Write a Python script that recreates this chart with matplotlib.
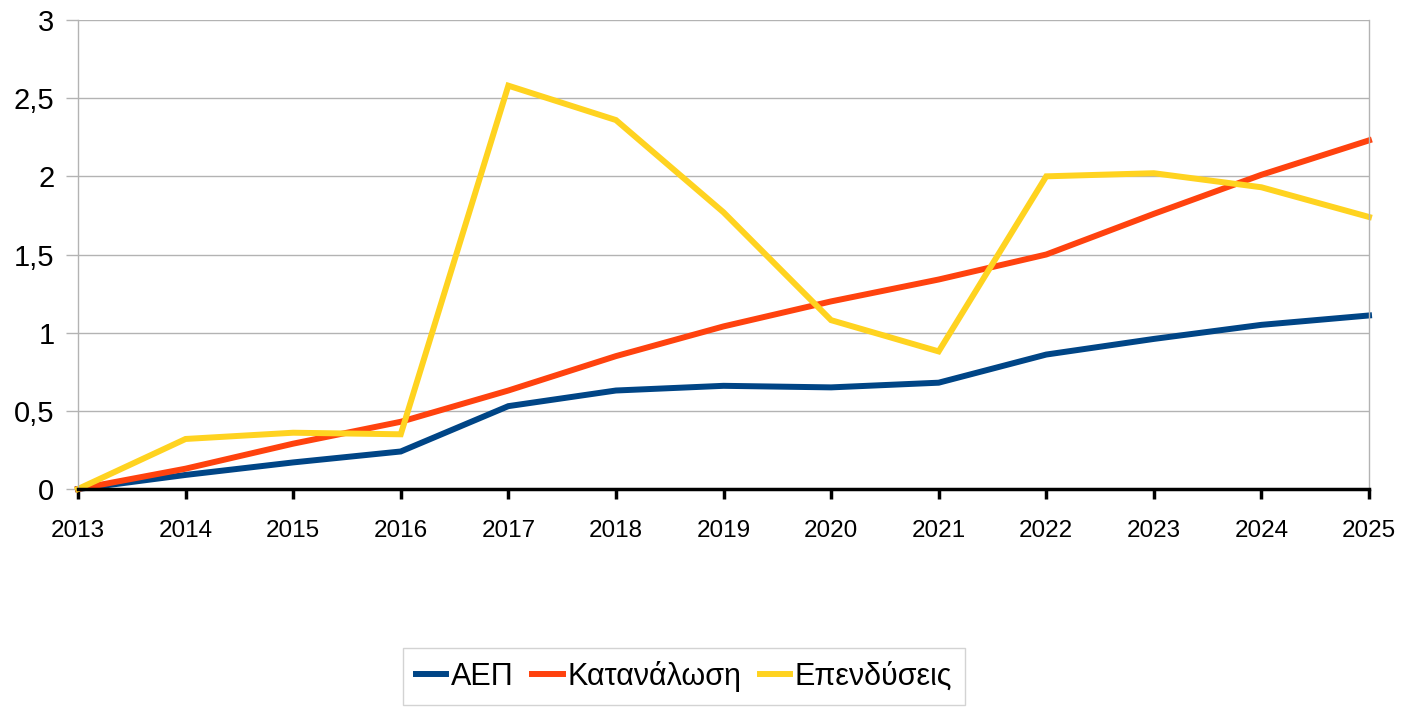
import matplotlib
matplotlib.use("Agg")
import matplotlib.pyplot as plt
from matplotlib.ticker import FuncFormatter

plt.rcParams['font.family'] = ['Liberation Sans', 'DejaVu Sans']

# data
years = [2013, 2014, 2015, 2016, 2017, 2018, 2019, 2020, 2021, 2022, 2023, 2024, 2025]
aep = [0, 0.09, 0.17, 0.24, 0.53, 0.63, 0.66, 0.65, 0.68, 0.86, 0.96, 1.05, 1.11]
katanalosi = [0, 0.13, 0.29, 0.43, 0.63, 0.85, 1.04, 1.20, 1.34, 1.50, 1.76, 2.01, 2.23]
ependyseis = [0, 0.32, 0.36, 0.35, 2.58, 2.36, 1.77, 1.08, 0.88, 2.00, 2.02, 1.93, 1.74]
names = ["ΑΕΠ", "Κατανάλωση", "Επενδύσεις"]
colors = ["#004586", "#ff420e", "#ffd320"]

fig = plt.figure(figsize=(14.1, 7.07), dpi=100)
ax = fig.add_axes([78/1410, 1 - 489/707, (1369 - 78)/1410, (489 - 20)/707])

for vals, name, col in zip([aep, katanalosi, ependyseis], names, colors):
    ax.plot(years, vals, color=col, lw=4.3, label=name, solid_joinstyle='miter', clip_on=False)

ax.set_xlim(2013, 2025)
ax.set_ylim(0, 3)
ax.set_xticks(years)
ax.set_yticks([0, 0.5, 1, 1.5, 2, 2.5, 3])
ax.yaxis.set_major_formatter(FuncFormatter(lambda v, p: ("%g" % v).replace(".", ",")))

ax.grid(axis='y', color='#b3b3b3', lw=1)
ax.set_axisbelow(True)
for s in ['left', 'right']:
    ax.spines[s].set_color('#b3b3b3')
    ax.spines[s].set_linewidth(1)
ax.spines['top'].set_visible(False)
ax.spines['bottom'].set_color('black')
ax.spines['bottom'].set_linewidth(2.5)
ax.spines['bottom'].set_zorder(5)

ax.tick_params(axis='x', direction='out', length=7, width=2.5, color='black', labelsize=17.5, pad=15)
ax.tick_params(axis='y', direction='out', length=9, width=1, color='#b3b3b3', labelsize=21, pad=8)

leg = fig.legend(loc='center', bbox_to_anchor=(684/1410, 1 - 676.5/707), ncol=3, fontsize=22,
                 frameon=True, fancybox=False, edgecolor='#c8c8c8', handlelength=1.0,
                 handletextpad=0.15, columnspacing=0.6, borderpad=0.43)
leg.get_frame().set_linewidth(1)

fig.savefig("out.png", dpi=100)
